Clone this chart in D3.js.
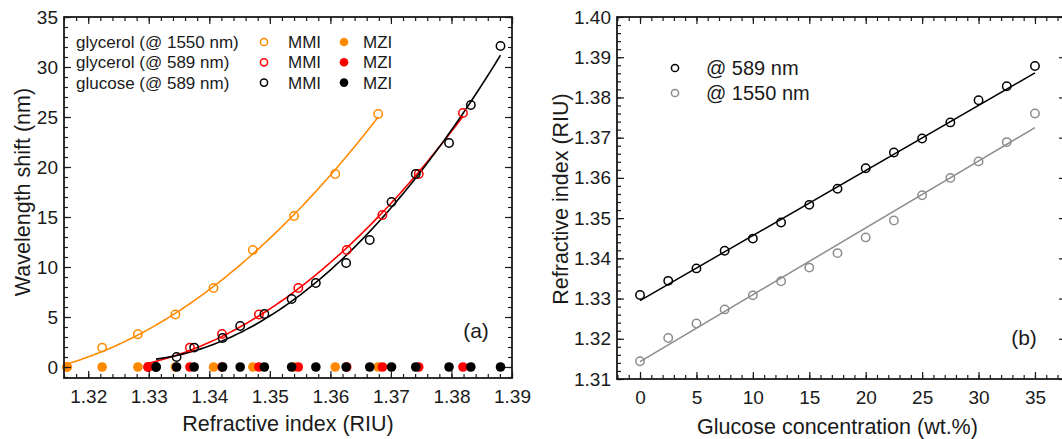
<!DOCTYPE html>
<html>
<head>
<meta charset="utf-8">
<script src="https://cdn.jsdelivr.net/npm/d3@7"></script>
<style>
  html, body { margin: 0; padding: 0; background: #fff; }
  svg { display: block; font-family: "Liberation Sans", Arial, sans-serif; }
</style>
</head>
<body>
<svg id="chart" width="1062" height="439"></svg>
<script>
// ---------- Panel (a) data: refractive index (RIU) vs wavelength shift (nm) ----------
const glyc1550RI   = [1.3165, 1.3223, 1.3282, 1.3344, 1.3407, 1.3472, 1.3540, 1.3608, 1.3679];
const glyc1550MMI  = [0, 1.94, 3.28, 5.25, 7.9, 11.7, 15.1, 19.3, 25.3];
const glyc1550MZI  = [0, 0, 0, 0, 0, 0, 0, 0, 0];

const glyc589RI    = [1.3299, 1.3368, 1.3421, 1.3482, 1.3547, 1.3627, 1.3686, 1.3746, 1.3819];
const glyc589MMI   = [0, 1.94, 3.3, 5.25, 7.9, 11.7, 15.2, 19.3, 25.4];
const glyc589MZI   = [0, 0, 0, 0, 0, 0, 0, 0, 0];

const gluc589RI    = [1.3312, 1.3346, 1.3375, 1.3422, 1.3451, 1.3491, 1.3536, 1.3576, 1.3626, 1.3665, 1.3701, 1.3741, 1.3796, 1.3832, 1.3881];
const gluc589MMI   = [0, 1.0, 1.94, 2.9, 4.1, 5.3, 6.8, 8.4, 10.4, 12.7, 16.5, 19.3, 22.4, 26.2, 32.1];
const gluc589MZI   = [0, 0, 0, 0, 0, 0, 0, 0, 0, 0, 0, 0, 0, 0, 0];

const aXTicks = [1.32, 1.33, 1.34, 1.35, 1.36, 1.37, 1.38, 1.39];
const aYTicks = [0, 5, 10, 15, 20, 25, 30, 35];
const aLegendNames = ["glycerol (@ 1550 nm)", "glycerol (@ 589 nm)", "glucose (@ 589 nm)"];

// ---------- Panel (b) data: glucose concentration (wt.%) vs refractive index ----------
const glucoseConc = [0, 2.5, 5, 7.5, 10, 12.5, 15, 17.5, 20, 22.5, 25, 27.5, 30, 32.5, 35];
const ri589  = [1.3309, 1.3344, 1.3375, 1.3419, 1.3449, 1.3489, 1.3533, 1.3573, 1.3624, 1.3663, 1.3698, 1.3738, 1.3793, 1.3828, 1.3878];
const ri1550 = [1.3144, 1.3202, 1.3238, 1.3273, 1.3308, 1.3343, 1.3377, 1.3413, 1.3452, 1.3494, 1.3557, 1.3600, 1.3641, 1.3689, 1.3760];
// linear fit lines: [intercept, slope]
const fit589  = [1.3295, 0.001617];
const fit1550 = [1.3143, 0.001663];
const bXTicks = [0, 5, 10, 15, 20, 25, 30, 35];
const bYTicks = [1.31, 1.32, 1.33, 1.34, 1.35, 1.36, 1.37, 1.38, 1.39, 1.40];
const bLegendNames = ["@ 589 nm", "@ 1550 nm"];

// ---------- styles ----------
const ORANGE = "#ff8a00", RED = "#ff0000", BLACK = "#000000", GRAY = "#8c8c8c";
const TXT = "#1a1a1a";

const svg = d3.select("#chart");

// least-squares polynomial fit on centred x
function polyFit(xs, ys, deg) {
  const n = deg + 1;
  const A = Array.from({length: n}, () => new Array(n + 1).fill(0));
  xs.forEach((x0, k) => {
    const x = (x0 - 1.35) * 100;
    for (let i = 0; i < n; i++) {
      for (let j = 0; j < n; j++) A[i][j] += Math.pow(x, i + j);
      A[i][n] += ys[k] * Math.pow(x, i);
    }
  });
  for (let i = 0; i < n; i++) {
    let p = i;
    for (let r = i + 1; r < n; r++) if (Math.abs(A[r][i]) > Math.abs(A[p][i])) p = r;
    [A[i], A[p]] = [A[p], A[i]];
    for (let r = 0; r < n; r++) {
      if (r === i) continue;
      const f = A[r][i] / A[i][i];
      for (let c = i; c <= n; c++) A[r][c] -= f * A[i][c];
    }
  }
  const coef = A.map((row, i) => row[n] / row[i]);
  return x0 => { const x = (x0 - 1.35) * 100; return coef.reduce((s, c, i) => s + c * Math.pow(x, i), 0); };
}

function drawFrame(g, x, y, w, h, xMaj, xMin, yMaj, yMin, xFmt, yFmt) {
  const MAJ = 7, MIN = 4;
  g.append("g").attr("transform", `translate(0,${h})`)
    .call(d3.axisBottom(x).tickValues(xMin).tickSize(-MIN).tickFormat(""));
  g.append("g").attr("transform", `translate(0,${h})`)
    .call(d3.axisBottom(x).tickValues(xMaj).tickSize(-MAJ).tickPadding(12).tickFormat(xFmt));
  g.append("g").call(d3.axisTop(x).tickValues(xMin).tickSize(-MIN).tickFormat(""));
  g.append("g").call(d3.axisTop(x).tickValues(xMaj).tickSize(-MAJ).tickFormat(""));
  g.append("g").call(d3.axisLeft(y).tickValues(yMin).tickSize(-MIN).tickFormat(""));
  g.append("g")
    .call(d3.axisLeft(y).tickValues(yMaj).tickSize(-MAJ).tickPadding(6).tickFormat(yFmt));
  g.append("g").attr("transform", `translate(${w},0)`)
    .call(d3.axisRight(y).tickValues(yMin).tickSize(-MIN).tickFormat(""));
  g.append("g").attr("transform", `translate(${w},0)`)
    .call(d3.axisRight(y).tickValues(yMaj).tickSize(-MAJ).tickFormat(""));
  g.selectAll(".domain").remove();
  g.selectAll(".tick line").attr("stroke", TXT).attr("stroke-width", 1.2);
  g.selectAll(".tick text").attr("fill", TXT).attr("font-size", 19)
    .attr("font-family", "Liberation Sans, Arial, sans-serif");
  g.append("rect").attr("x", 0).attr("y", 0).attr("width", w).attr("height", h)
    .attr("fill", "none").attr("stroke", TXT).attr("stroke-width", 1.8);
}

function range(a, b, s) { const out = []; for (let v = a; v <= b + s / 1000; v += s) out.push(+v.toFixed(6)); return out; }

// ================= Panel (a) =================
{
  const left = 64, top = 17, w = 448, h = 361;
  const g = svg.append("g").attr("transform", `translate(${left},${top})`);
  const x = d3.scaleLinear().domain([1.3160, 1.39]).range([0, w]);
  const y = d3.scaleLinear().domain([-1.1, 35]).range([h, 0]);

  g.append("clipPath").attr("id", "clipA").append("rect").attr("width", w).attr("height", h);

  const series = [
    {ri: glyc1550RI, mmi: glyc1550MMI, mzi: glyc1550MZI, color: ORANGE},
    {ri: glyc589RI,  mmi: glyc589MMI,  mzi: glyc589MZI,  color: RED},
    {ri: gluc589RI,  mmi: gluc589MMI,  mzi: gluc589MZI,  color: BLACK}
  ];
  const lines = g.append("g").attr("clip-path", "url(#clipA)");
  const marks = g.append("g");
  series.forEach(s => {
    const f = polyFit(s.ri, s.mmi, 2);
    const x0 = x.domain()[0] < d3.min(s.ri) - 0.001 ? d3.min(s.ri) : x.domain()[0];
    const x1 = d3.max(s.ri);
    const pts = d3.range(0, 101).map(i => x0 + (x1 - x0) * i / 100);
    lines.append("path")
      .attr("d", d3.line().x(v => x(v)).y(v => y(f(v)))(pts))
      .attr("fill", "none").attr("stroke", s.color).attr("stroke-width", 1.6);
  });
  series.forEach(s => {
    marks.selectAll(null).data(s.ri.map((r, i) => [r, s.mmi[i]])).join("circle")
      .attr("cx", d => x(d[0])).attr("cy", d => y(d[1])).attr("r", 4.2)
      .attr("fill", "none").attr("stroke", s.color).attr("stroke-width", 1.5);
  });
  series.forEach(s => {
    marks.selectAll(null).data(s.ri.map((r, i) => [r, s.mzi[i]])).join("circle")
      .attr("cx", d => x(d[0])).attr("cy", d => y(d[1])).attr("r", 4.8)
      .attr("fill", s.color);
  });

  drawFrame(g, x, y, w, h, aXTicks, range(1.316, 1.39, 0.002), aYTicks, range(-1, 35, 1),
    d3.format(".2f"), d3.format("d"));

  const lg = g.append("g");
  aLegendNames.forEach((name, i) => {
    const cy = 25 + i * 20.3;
    lg.append("text").attr("x", 12).attr("y", cy + 6).text(name)
      .attr("font-size", 17).attr("fill", TXT);
    lg.append("circle").attr("cx", 200).attr("cy", cy).attr("r", 3.6)
      .attr("fill", "none").attr("stroke", series[i].color).attr("stroke-width", 1.5);
    lg.append("text").attr("x", 224).attr("y", cy + 6).text("MMI")
      .attr("font-size", 17).attr("fill", TXT);
    lg.append("circle").attr("cx", 280).attr("cy", cy).attr("r", 4.3).attr("fill", series[i].color);
    lg.append("text").attr("x", 299).attr("y", cy + 6).text("MZI")
      .attr("font-size", 17).attr("fill", TXT);
  });

  g.append("text").attr("x", 412).attr("y", 321).attr("text-anchor", "middle")
    .attr("font-size", 21).attr("fill", TXT).text("(a)");

  g.append("text").attr("x", w / 2).attr("y", 414).attr("text-anchor", "middle")
    .attr("font-size", 21.5).attr("fill", TXT).text("Refractive index (RIU)");
  g.append("text").attr("transform", `translate(${-34},${175}) rotate(-90)`)
    .attr("text-anchor", "middle").attr("font-size", 21.5).attr("fill", TXT)
    .text("Wavelength shift (nm)");
}

// ================= Panel (b) =================
{
  const left = 617, top = 17, w = 449, h = 362;
  const g = svg.append("g").attr("transform", `translate(${left},${top})`);
  const x = d3.scaleLinear().domain([-2.04, 37.75]).range([0, w]);
  const y = d3.scaleLinear().domain([1.31, 1.40]).range([h, 0]);

  const plot = g.append("g");
  const lines = [
    {fit: fit1550, ys: ri1550, color: GRAY},
    {fit: fit589, ys: ri589, color: BLACK}
  ];
  lines.forEach(s => {
    const xs = [d3.min(glucoseConc), d3.max(glucoseConc)];
    plot.append("path")
      .attr("d", d3.line().x(c => x(c)).y(c => y(s.fit[0] + s.fit[1] * c))(xs))
      .attr("fill", "none").attr("stroke", s.color).attr("stroke-width", 1.5);
    plot.selectAll(null).data(glucoseConc.map((c, i) => [c, s.ys[i]])).join("circle")
      .attr("cx", d => x(d[0])).attr("cy", d => y(d[1])).attr("r", 4.2)
      .attr("fill", "none").attr("stroke", s.color).attr("stroke-width", 1.5);
  });

  drawFrame(g, x, y, w, h, bXTicks, range(-2, 37, 1), bYTicks, range(1.31, 1.40, 0.002),
    d3.format("d"), d3.format(".2f"));

  const legColors = [BLACK, GRAY];
  bLegendNames.forEach((name, i) => {
    const cy = 51 + i * 25;
    g.append("circle").attr("cx", 58).attr("cy", cy).attr("r", 3.6)
      .attr("fill", "none").attr("stroke", legColors[i]).attr("stroke-width", 1.5);
    g.append("text").attr("x", 89).attr("y", cy + 7).text(name)
      .attr("font-size", 20).attr("fill", TXT);
  });

  g.append("text").attr("x", 407).attr("y", 328).attr("text-anchor", "middle")
    .attr("font-size", 21).attr("fill", TXT).text("(b)");

  g.append("text").attr("x", x(17.5)).attr("y", 417).attr("text-anchor", "middle")
    .attr("font-size", 21.5).attr("fill", TXT).text("Glucose concentration (wt.%)");
  g.append("text").attr("transform", `translate(${-49},${182}) rotate(-90)`)
    .attr("text-anchor", "middle").attr("font-size", 21.5).attr("fill", TXT)
    .text("Refractive index (RIU)");
}
</script>
</body>
</html>
